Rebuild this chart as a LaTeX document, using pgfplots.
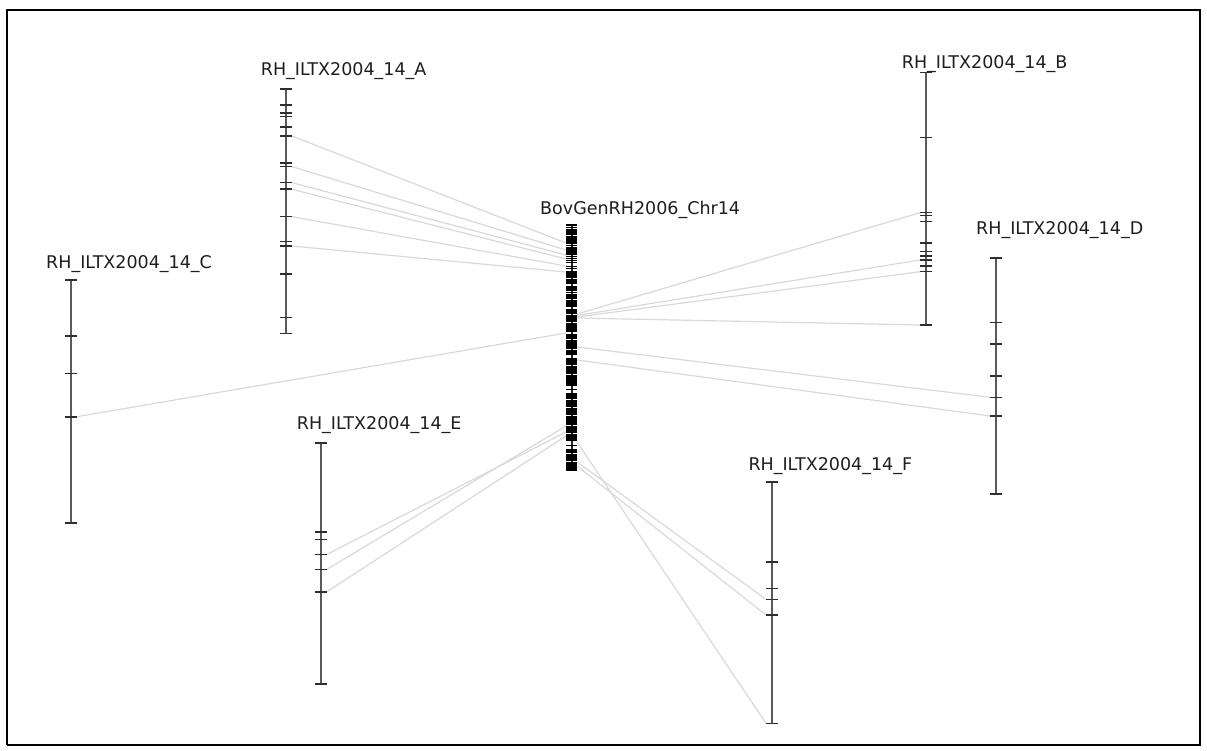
\documentclass[border=0pt]{standalone}
\usepackage{fontspec}
\setmainfont{DejaVu Sans}
\usepackage{pgfplots}
\usepackage{pgfplotstable}
\pgfplotsset{compat=1.18}
\definecolor{axcol}{HTML}{5A5A5A}
\definecolor{tkcol}{HTML}{2E2E2E}
\definecolor{lnk}{HTML}{D9D9D9}
\definecolor{txt}{HTML}{1E1E1E}
\tikzset{
  axline/.style={color=axcol, line width=2pt, mark=none},
  tk/.style={only marks, mark=-, mark size=6, color=tkcol, mark options={line width=1.6pt}},
  link/.style={color=lnk, line width=1.2pt, mark=none},
  lab/.style={anchor=base west, text=txt, font=\fontsize{17.5}{20}\selectfont, inner sep=0pt},
}

% map A
\pgfplotstableread{
x y
286 89.3
286 105
286 113.3
286 116.7
286 127.3
286 136
286 163.3
286 166.7
286 182.7
286 189.3
286 216.7
286 241.7
286 246
286 274.3
286 317.3
286 333.3
}\mapA
% map B
\pgfplotstableread{
x y
926 72.7
926 137.7
926 212.7
926 215.7
926 221.7
926 243.3
926 251.7
926 256
926 260
926 266
926 271.7
926 325
}\mapB
% map C
\pgfplotstableread{
x y
71 280
71 335.7
71 373.3
71 416.7
71 522.7
}\mapC
% map D
\pgfplotstableread{
x y
996 258.3
996 322.3
996 344
996 375.7
996 397.3
996 416
996 494
}\mapD
% map E
\pgfplotstableread{
x y
321 442.7
321 531.7
321 539.3
321 554.3
321 569.3
321 591.7
321 684
}\mapE
% map F
\pgfplotstableread{
x y
772 481.7
772 561.7
772 588.3
772 599.3
772 615
772 723.3
}\mapF
% central chromosome
\pgfplotstableread{
x y
571.5 225
571.5 227.5
571.5 230
571.5 232
571.5 234
571.5 236.5
571.5 238
571.5 240
571.5 242
571.5 243.5
571.5 245.5
571.5 247.5
571.5 249
571.5 251
571.5 253
571.5 254.5
571.5 256.5
571.5 258.5
571.5 260.5
571.5 262.5
571.5 266.5
571.5 268.5
571.5 272
571.5 274
571.5 276
571.5 277.5
571.5 279.5
571.5 281
571.5 283
571.5 287
571.5 289
571.5 290.5
571.5 292.5
571.5 294.5
571.5 296
571.5 298
571.5 300.5
571.5 302
571.5 304
571.5 306
571.5 310
571.5 312
571.5 313.5
571.5 315.5
571.5 317
571.5 318.5
571.5 320
571.5 321.5
571.5 323.5
571.5 325
571.5 327
571.5 329
571.5 331
571.5 335
571.5 337
571.5 338.5
571.5 340.5
571.5 342
571.5 344
571.5 346
571.5 348
571.5 350.5
571.5 352
571.5 354
571.5 359
571.5 361
571.5 363
571.5 364.5
571.5 366.5
571.5 368
571.5 370
571.5 372
571.5 373.5
571.5 375.5
571.5 377
571.5 379
571.5 381
571.5 383
571.5 385
571.5 389.5
571.5 394
571.5 396
571.5 398
571.5 400.5
571.5 402
571.5 404
571.5 406
571.5 408.5
571.5 410
571.5 412
571.5 414
571.5 416.5
571.5 418
571.5 420
571.5 422
571.5 424
571.5 426.5
571.5 428
571.5 430
571.5 432
571.5 434.5
571.5 436
571.5 438
571.5 440
571.5 445.5
571.5 450
571.5 452
571.5 454.5
571.5 456
571.5 458
571.5 460
571.5 462.5
571.5 464
571.5 466
571.5 468
571.5 470
}\chrom

\begin{document}
\begin{tikzpicture}
\begin{axis}[
  scale only axis, width=1207pt, height=751pt,
  xmin=0, xmax=1207, ymin=0, ymax=751, y dir=reverse,
  hide axis, clip=false,
]
% page
\addplot[draw=none, fill=white] coordinates {(0,0) (1207,0) (1207,751) (0,751)} -- cycle;
\addplot[black, line width=2.2pt, mark=none] coordinates {(7,745) (7,10) (1200,10) (1200,745) (7,745)};

% links A
\addplot[link] coordinates {(292,136) (566,243)};
\addplot[link] coordinates {(292,166.7) (566,250)};
\addplot[link] coordinates {(292,182.7) (566,255)};
\addplot[link] coordinates {(292,189.3) (566,259)};
\addplot[link] coordinates {(292,216.7) (566,266)};
\addplot[link] coordinates {(292,246) (566,272)};
% links B
\addplot[link] coordinates {(920,212.7) (577,314)};
\addplot[link] coordinates {(920,260) (577,315.5)};
\addplot[link] coordinates {(920,271.7) (577,317)};
\addplot[link] coordinates {(920,325) (577,318)};
% link C
\addplot[link] coordinates {(77,416.7) (566,333)};
% links D
\addplot[link] coordinates {(990,397.3) (577,347)};
\addplot[link] coordinates {(990,416) (577,360)};
% links E
\addplot[link] coordinates {(327,554.3) (566,432)};
\addplot[link] coordinates {(327,569.3) (566,426)};
\addplot[link] coordinates {(327,591.7) (566,436)};
% links F
\addplot[link] coordinates {(577,462) (766,599.3)};
\addplot[link] coordinates {(577,466) (766,615)};
\addplot[link] coordinates {(577,442) (766,723.3)};

% map axes
\addplot[axline] table[x=x,y=y] {\mapA};
\addplot[axline] table[x=x,y=y] {\mapB};
\addplot[axline] table[x=x,y=y] {\mapC};
\addplot[axline] table[x=x,y=y] {\mapD};
\addplot[axline] table[x=x,y=y] {\mapE};
\addplot[axline] table[x=x,y=y] {\mapF};
\addplot[color=black!85, line width=2pt, mark=none] table[x=x,y=y] {\chrom};
% ticks
\addplot[tk] table[x=x,y=y] {\mapA};
\addplot[tk] table[x=x,y=y] {\mapB};
\addplot[tk] table[x=x,y=y] {\mapC};
\addplot[tk] table[x=x,y=y] {\mapD};
\addplot[tk] table[x=x,y=y] {\mapE};
\addplot[tk] table[x=x,y=y] {\mapF};
\addplot[only marks, mark=-, mark size=5.7, color=black, mark options={line width=1.1pt}] table[x=x,y=y] {\chrom};

% labels
\node[lab] at (axis cs:260.7,75.7) {RH\_ILTX2004\_14\_A};
\node[lab] at (axis cs:901.7,68.3) {RH\_ILTX2004\_14\_B};
\node[lab] at (axis cs:46,268.3) {RH\_ILTX2004\_14\_C};
\node[lab] at (axis cs:976,235) {RH\_ILTX2004\_14\_D};
\node[lab] at (axis cs:296.7,429.3) {RH\_ILTX2004\_14\_E};
\node[lab] at (axis cs:748.3,470) {RH\_ILTX2004\_14\_F};
\node[lab] at (axis cs:540,215) {BovGenRH2006\_Chr14};
\end{axis}
\end{tikzpicture}
\end{document}
